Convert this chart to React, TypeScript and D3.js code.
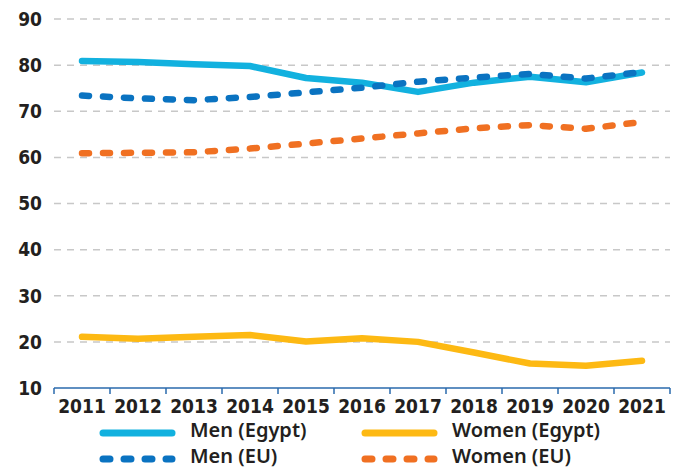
import React, { useEffect, useRef } from "react";
import * as d3 from "d3";

const years = ["2011", "2012", "2013", "2014", "2015", "2016", "2017", "2018", "2019", "2020", "2021"];
const menEgypt = [80.9, 80.7, 80.2, 79.8, 77.2, 76.2, 74.2, 76.2, 77.5, 76.3, 78.4];
const womenEgypt = [21.1, 20.7, 21.1, 21.5, 20.1, 20.8, 20.0, 17.7, 15.3, 14.8, 15.9];
const menEU = [73.4, 72.8, 72.4, 73.1, 74.1, 75.1, 76.4, 77.3, 78.1, 77.1, 78.5];
const womenEU = [60.9, 61.0, 61.1, 61.9, 63.0, 64.1, 65.2, 66.3, 67.0, 66.2, 67.7];
const yTicks = [10, 20, 30, 40, 50, 60, 70, 80, 90];

const series = [
  { name: "Men (Egypt)", values: menEgypt, color: "#12b1df", dashed: false },
  { name: "Women (Egypt)", values: womenEgypt, color: "#fdb913", dashed: false },
  { name: "Men (EU)", values: menEU, color: "#0a73c1", dashed: true },
  { name: "Women (EU)", values: womenEU, color: "#f07022", dashed: true },
];

const W = 678,
  H = 470;
const margin = { top: 19, right: 8, bottom: 82, left: 54 };
const width = W - margin.left - margin.right;
const height = H - margin.top - margin.bottom;

const axisFont = "'Liberation Sans Narrow', 'DejaVu Sans Condensed', sans-serif";
const legendFont = "'Noto Sans', 'Open Sans', sans-serif";

export default function App() {
  const ref = useRef<SVGSVGElement>(null);

  useEffect(() => {
    const svg = d3.select(ref.current);
    svg.selectAll("*").remove();

    const x = d3.scaleBand().domain(years).range([0, width]);
    const y = d3.scaleLinear().domain([10, 90]).range([height, 0]);

    const g = svg.append("g").attr("transform", "translate(" + margin.left + "," + margin.top + ")");

    // gridlines
    g.selectAll("line.grid")
      .data(yTicks.filter((t) => t > 10))
      .enter()
      .append("line")
      .attr("x1", 0)
      .attr("x2", width)
      .attr("y1", (d) => y(d))
      .attr("y2", (d) => y(d))
      .attr("stroke", "#c8c8c8")
      .attr("stroke-width", 1.5)
      .attr("stroke-dasharray", "7 6");

    // y labels
    g.selectAll("text.ylab")
      .data(yTicks)
      .enter()
      .append("text")
      .attr("x", -12)
      .attr("y", (d) => y(d))
      .attr("dy", "0.36em")
      .attr("text-anchor", "end")
      .style("font-family", axisFont)
      .style("font-weight", "bold")
      .style("font-size", "19px")
      .style("fill", "#231f20")
      .text((d) => d);

    // x axis
    const xAxis = g.append("g").attr("transform", "translate(0," + height + ")");
    xAxis
      .append("line")
      .attr("x1", 0)
      .attr("x2", width)
      .attr("stroke", "#2a6aad")
      .attr("stroke-width", 1.5);
    xAxis
      .selectAll("line.tick")
      .data(d3.range(years.length + 1))
      .enter()
      .append("line")
      .attr("x1", (i) => i * x.bandwidth())
      .attr("x2", (i) => i * x.bandwidth())
      .attr("y1", 0)
      .attr("y2", 6)
      .attr("stroke", "#2a6aad")
      .attr("stroke-width", 1.5);
    xAxis
      .selectAll("text")
      .data(years)
      .enter()
      .append("text")
      .attr("x", (d) => x(d)! + x.bandwidth() / 2)
      .attr("y", 25)
      .attr("text-anchor", "middle")
      .style("font-family", axisFont)
      .style("font-weight", "bold")
      .style("font-size", "19px")
      .style("fill", "#231f20")
      .text((d) => d);

    const line = d3
      .line<number>()
      .x((d, i) => x(years[i])! + x.bandwidth() / 2)
      .y((d) => y(d));

    series.forEach((s) => {
      g.append("path")
        .datum(s.values)
        .attr("fill", "none")
        .attr("stroke", s.color)
        .attr("stroke-width", 6.5)
        .attr("stroke-linecap", "round")
        .attr("stroke-linejoin", "round")
        .attr("stroke-dasharray", s.dashed ? "7 14" : null)
        .attr("d", line);
    });

    // legend
    const legendPos = [
      { x: 103, y: 433 },
      { x: 365, y: 433 },
      { x: 103, y: 459 },
      { x: 365, y: 459 },
    ];
    series.forEach((s, i) => {
      const p = legendPos[i];
      svg
        .append("line")
        .attr("x1", p.x)
        .attr("x2", p.x + 69)
        .attr("y1", p.y)
        .attr("y2", p.y)
        .attr("stroke", s.color)
        .attr("stroke-width", 7)
        .attr("stroke-linecap", "round")
        .attr("stroke-dasharray", s.dashed ? "7 14" : null);
      svg
        .append("text")
        .attr("x", p.x + 87)
        .attr("y", p.y + 4)
        .style("font-family", legendFont)
        .style("font-weight", 600)
        .style("font-size", "20px")
        .style("fill", "#231f20")
        .text(s.name);
    });
  }, []);

  return (
    <svg
      ref={ref}
      width={W}
      height={H}
      style={{ position: "absolute", left: 0, top: 0, background: "#fff" }}
    />
  );
}
